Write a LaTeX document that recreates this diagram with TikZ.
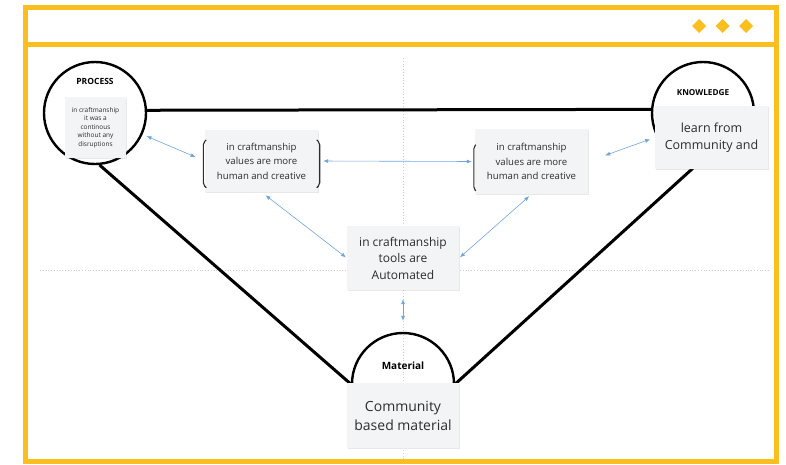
\documentclass[tikz,border=0pt]{standalone}
\usepackage{fontspec}
\setmainfont{Open Sans}
\usetikzlibrary{arrows.meta,shadows,calc}
\definecolor{frameyellow}{RGB}{250,190,30}
\definecolor{boxgray}{RGB}{243,244,246}
\definecolor{linkblue}{RGB}{110,165,220}
\definecolor{gridgray}{RGB}{205,205,205}
\definecolor{txtgray}{RGB}{45,45,45}
\begin{document}
\begin{tikzpicture}[x=1pt,y=-1pt,
	card/.style={fill=boxgray, text=txtgray, align=center, inner sep=0pt,
		drop shadow={opacity=0.18,shadow xshift=0.8pt,shadow yshift=-1.2pt}},
	ring/.style={draw=black, line width=2.4pt, circle, minimum size=102pt, inner sep=0pt},
	spoke/.style={line width=3pt, black},
	bilink/.style={linkblue, line width=0.6pt,
		{Latex[length=5pt,width=4pt]}-{Latex[length=5pt,width=4pt]}},
	bracket/.style={txtgray, line width=1.1pt, rounded corners=2pt},
	tag/.style={font=\bfseries, text=black, inner sep=0pt}]
	\useasboundingbox (0,0) rectangle (786,464);
	\draw [frameyellow, line width=5pt] (25.5,7.5) rectangle (776.5,461.5);
	\draw [frameyellow, line width=5pt] (25.5,44.5) -- (776.5,44.5);
	\foreach \dx in {699,722.5,746}
		\fill [frameyellow] (\dx,19) -- (\dx+7,26) -- (\dx,33) -- (\dx-7,26) -- cycle;
	\draw [gridgray, dotted, line width=0.8pt] (403,58) -- (403,459);
	\draw [gridgray, dotted, line width=0.8pt] (40,270) -- (770,270);
	\node [ring] (pcirc) at (95,113) {};
	\node [ring] (kcirc) at (703,113) {};
	\node [ring] (mcirc) at (403,384) {};
	\node [tag, font=\fontsize{8.5}{9}\selectfont\bfseries] (ptag) at (95,81) {PROCESS};
	\node [tag, font=\fontsize{8.2}{9}\selectfont\bfseries] (ktag) at (703,93) {KNOWLEDGE};
	\node [tag, font=\fontsize{10}{11}\selectfont\bfseries] (mtag) at (403,366) {Material};
	\draw [spoke] (pcirc.3.4) -- (kcirc.176.6);
	\draw [spoke] (pcirc.-85) -- (mcirc.180);
	\draw [spoke] (kcirc.-97) -- (mcirc.0);
	\node [card, minimum width=61pt, minimum height=61pt, font=\fontsize{6.5}{8.6}\selectfont] (pbox) at (95.5,127.5)
		{in craftmanship\\it was a\\continous\\without any\\disruptions};
	\node [card, minimum width=113pt, minimum height=62pt, font=\fontsize{9.6}{14.5}\selectfont] (vleft) at (261.5,161)
		{in craftmanship\\values are more\\human and creative};
	\node [card, minimum width=113pt, minimum height=65pt, font=\fontsize{9.6}{14.5}\selectfont] (vright) at (531.5,161.5)
		{in craftmanship\\values are more\\human and creative};
	\node [card, minimum width=113pt, minimum height=63pt, font=\fontsize{12.5}{17}\selectfont] (kbox) at (711.5,137.5)
		{learn from\\Community and};
	\node [card, minimum width=112pt, minimum height=64pt, font=\fontsize{12}{16.5}\selectfont] (tools) at (403,258)
		{in craftmanship\\tools are\\Automated};
	\node [card, minimum width=112pt, minimum height=65pt, font=\fontsize{14}{19}\selectfont] (mbox) at (403,415.5)
		{Community\\based material};
	\draw [bracket] ($(vleft.north west)+(1.5,10)$) -- ++(-3,3) -- ++(0,42) -- ++(3,3);
	\draw [bracket] ($(vleft.north east)+(-1.5,10)$) -- ++(3,3) -- ++(0,42) -- ++(-3,3);
	\draw [bracket] ($(vright.north west)+(1,16)$) -- ++(-2,2) -- ++(0,42) -- ++(2,2);
	\draw [bilink, shorten <=22pt, shorten >=10pt] (pbox.east) -- (vleft.west);
	\draw [bilink, shorten <=5pt, shorten >=3pt] (vleft.east) -- (vright.west);
	\draw [bilink, shorten <=5pt, shorten >=1pt] (vleft.south) -- (tools.west);
	\draw [bilink, shorten <=3pt, shorten >=1pt] (vright.south) -- (tools.east);
	\draw [bilink, shorten <=18pt, shorten >=5pt] (vright.east) -- (kbox.west);
	\draw [bilink, shorten <=9pt, shorten >=11pt] (tools.south) -- (mcirc.north);
\end{tikzpicture}
\end{document}
